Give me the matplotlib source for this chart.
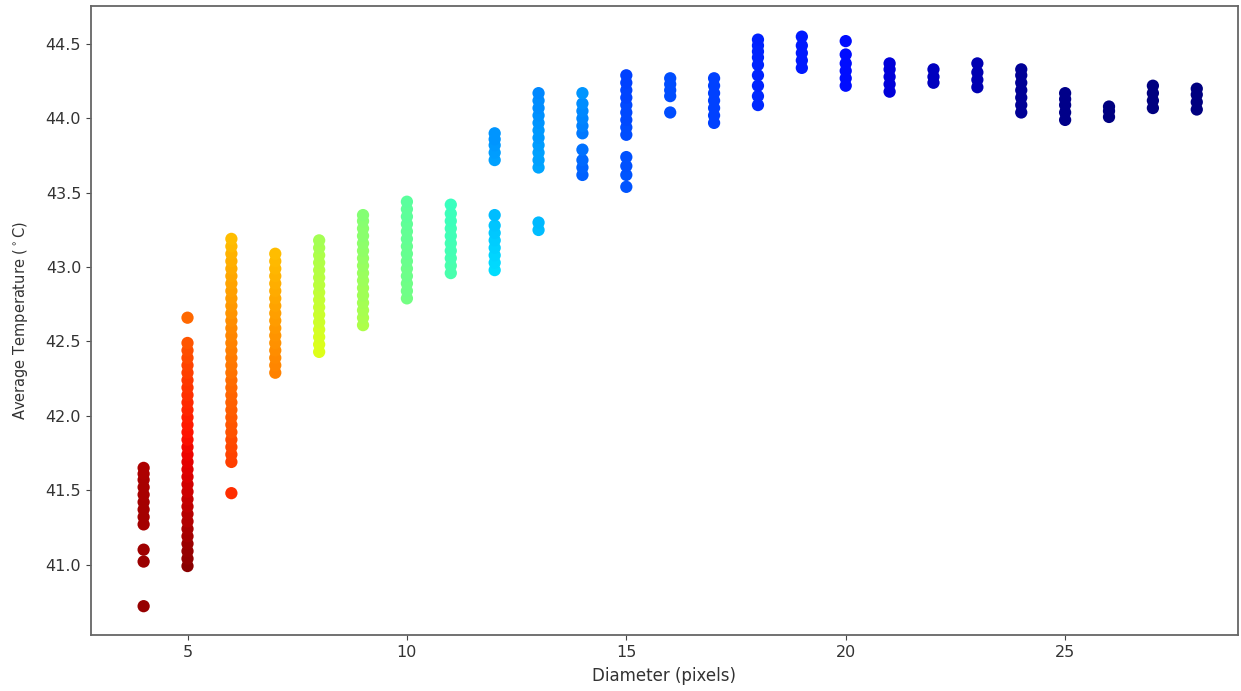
import numpy as np
import matplotlib
matplotlib.use('Agg')
import matplotlib.pyplot as plt

# diameters (pixels) and the average temperatures measured for each one
diameters = [4, 5, 6, 7, 8, 9, 10, 11, 12, 13, 14, 15, 16,
             17, 18, 19, 20, 21, 22, 23, 24, 25, 26, 27, 28]

temps = [
    [40.72, 41.02, 41.10, 41.27, 41.32, 41.37, 41.42, 41.47, 41.52, 41.57, 41.61, 41.65],
    [40.99, 41.04, 41.09, 41.14, 41.19, 41.24, 41.29, 41.34, 41.39, 41.44, 41.49,
     41.54, 41.59, 41.64, 41.69, 41.74, 41.79, 41.84, 41.89, 41.94, 41.99, 42.04,
     42.09, 42.14, 42.19, 42.24, 42.29, 42.34, 42.39, 42.44, 42.49, 42.66],
    [41.48, 41.69, 41.74, 41.79, 41.84, 41.89, 41.94, 41.99, 42.04, 42.09, 42.14,
     42.19, 42.24, 42.29, 42.34, 42.39, 42.44, 42.49, 42.54, 42.59, 42.64, 42.69,
     42.74, 42.79, 42.84, 42.89, 42.94, 42.99, 43.04, 43.09, 43.14, 43.19],
    [42.29, 42.34, 42.39, 42.44, 42.49, 42.54, 42.59, 42.64, 42.69, 42.74, 42.79,
     42.84, 42.89, 42.94, 42.99, 43.04, 43.09],
    [42.43, 42.48, 42.53, 42.58, 42.63, 42.68, 42.73, 42.78, 42.83, 42.88, 42.93,
     42.98, 43.03, 43.08, 43.13, 43.18],
    [42.61, 42.66, 42.71, 42.76, 42.81, 42.86, 42.91, 42.96, 43.01, 43.06, 43.11,
     43.16, 43.21, 43.26, 43.31, 43.35],
    [42.79, 42.84, 42.89, 42.94, 42.99, 43.04, 43.09, 43.14, 43.19, 43.24, 43.29,
     43.34, 43.39, 43.44],
    [42.96, 43.01, 43.06, 43.11, 43.16, 43.21, 43.26, 43.31, 43.36, 43.42],
    [42.98, 43.03, 43.08, 43.13, 43.18, 43.23, 43.28, 43.35, 43.72, 43.77, 43.82,
     43.86, 43.90],
    [43.25, 43.30, 43.67, 43.72, 43.77, 43.82, 43.87, 43.92, 43.97, 44.02, 44.07,
     44.12, 44.17],
    [43.62, 43.67, 43.72, 43.79, 43.90, 43.95, 44.00, 44.05, 44.10, 44.17],
    [43.54, 43.62, 43.68, 43.74, 43.89, 43.94, 43.99, 44.04, 44.09, 44.14, 44.19,
     44.24, 44.29],
    [44.04, 44.15, 44.19, 44.23, 44.27],
    [43.97, 44.02, 44.07, 44.12, 44.17, 44.22, 44.27],
    [44.09, 44.15, 44.22, 44.29, 44.36, 44.41, 44.45, 44.49, 44.53],
    [44.34, 44.39, 44.44, 44.49, 44.55],
    [44.22, 44.27, 44.32, 44.37, 44.43, 44.52],
    [44.18, 44.23, 44.28, 44.33, 44.37],
    [44.24, 44.28, 44.33],
    [44.21, 44.26, 44.31, 44.37],
    [44.04, 44.09, 44.14, 44.19, 44.24, 44.29, 44.33],
    [43.99, 44.04, 44.09, 44.13, 44.17],
    [44.01, 44.05, 44.08],
    [44.07, 44.12, 44.17, 44.22],
    [44.06, 44.11, 44.16, 44.20],
]

# colour value (position on jet) of the coolest and hottest point of each diameter
colour_lo = [0.98, 0.99, 0.86, 0.77, 0.62, 0.56, 0.49, 0.44, 0.34, 0.31, 0.22, 0.21, 0.20,
             0.19, 0.165, 0.15, 0.14, 0.08, 0.055, 0.045, 0.022, 0.01, 0.0, 0.0, 0.0]
colour_hi = [0.96, 0.80, 0.71, 0.71, 0.55, 0.51, 0.46, 0.42, 0.27, 0.26, 0.27, 0.19, 0.20,
             0.19, 0.16, 0.15, 0.14, 0.08, 0.055, 0.045, 0.022, 0.01, 0.0, 0.0, 0.0]

x, y, c = [], [], []
for d, t, lo, hi in zip(diameters, temps, colour_lo, colour_hi):
    t = np.array(t)
    frac = (t - t.min()) / (t.max() - t.min())
    x += [d] * len(t)
    y += list(t)
    c += list(lo + (hi - lo) * frac)

fig = plt.figure(figsize=(12.41, 6.91), dpi=100)
ax = fig.add_axes([0.0733, 0.081, 0.9243, 0.9103])
ax.scatter(x, y, c=c, cmap='jet', vmin=0, vmax=1, s=78, linewidths=0)

ax.set_xlim(2.8, 28.94)
ax.set_ylim(40.526, 44.756)
ax.set_xticks([5, 10, 15, 20, 25])
ax.set_yticks([41.0, 41.5, 42.0, 42.5, 43.0, 43.5, 44.0, 44.5])
ax.tick_params(labelsize=11.5, colors='#444444', labelcolor='#333333')
for sp in ax.spines.values():
    sp.set_color('#666666')
    sp.set_linewidth(1.3)

ax.set_xlabel('Diameter (pixels)', fontsize=12, color='#333333', labelpad=5)
ax.set_ylabel(r'Average Temperature ($^\circ$C)', fontsize=10.5, color='#333333', labelpad=11)

fig.savefig('out.png', dpi=100)
